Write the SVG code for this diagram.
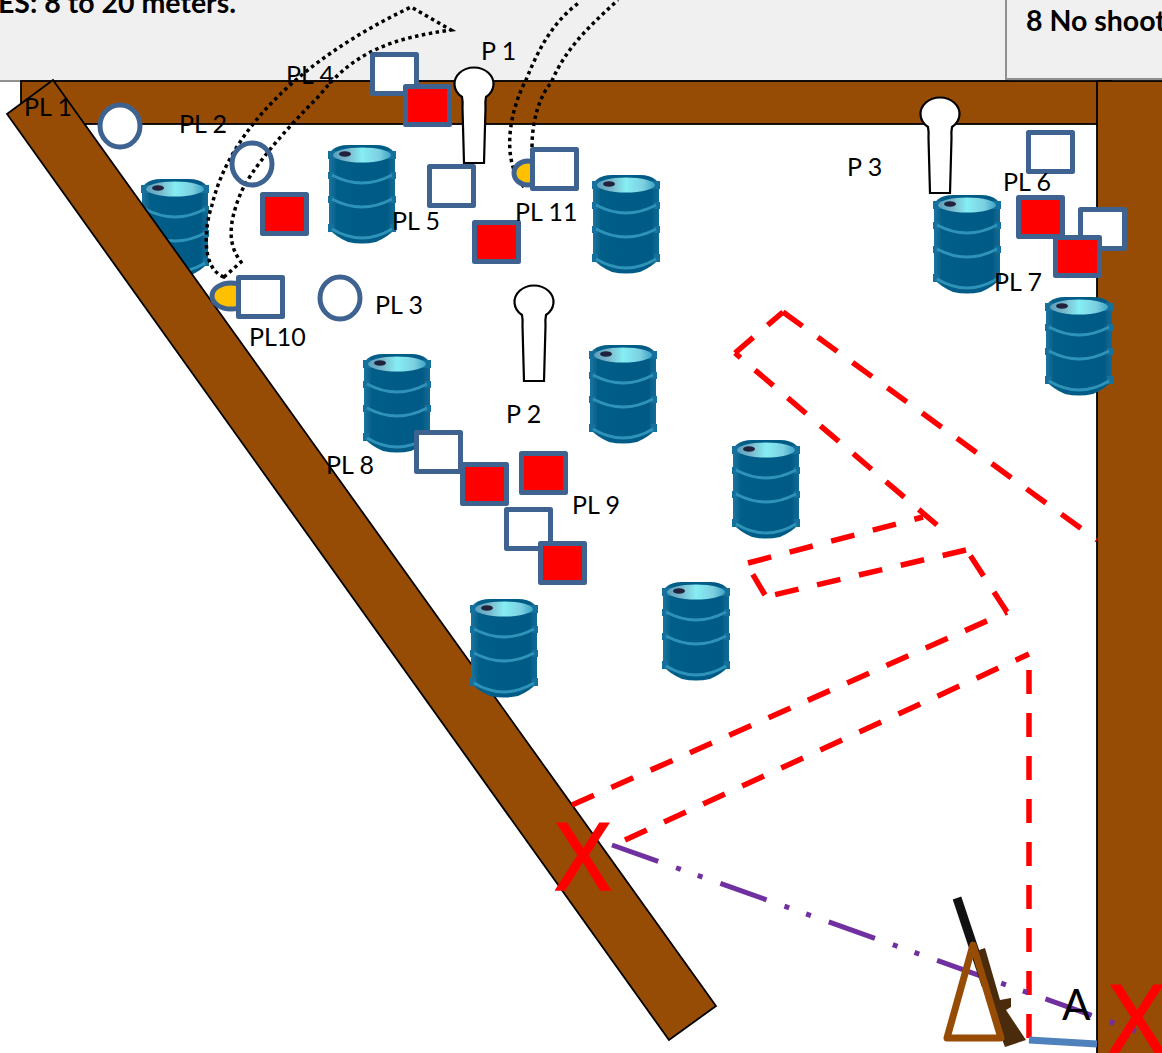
<svg xmlns="http://www.w3.org/2000/svg" width="1162" height="1053" viewBox="0 0 1162 1053">
<style>
text{font-family:"Lato","Liberation Sans",sans-serif;fill:#000}
.lb{font-size:25px}
.hd{font-size:28.500px;font-weight:700}
.wall{fill:#974c06;stroke:#000;stroke-width:1.8}
.sq{stroke:#3f6391;stroke-width:5;stroke-linejoin:round}
.w{fill:#fff}.r{fill:#f00}
.c{stroke:#3f6391;stroke-width:5}
.y{fill:#ffc000;stroke:#3f6391;stroke-width:5}
.p{fill:#fff;stroke:#000;stroke-width:2.2}
.red{fill:none;stroke:#f00;stroke-width:5.500;stroke-dasharray:24 19}
.dot{fill:none;stroke:#000;stroke-width:3.500;stroke-dasharray:3.500 3.500}
.x{fill:#f00;stroke:#f00;stroke-width:1.5;font-size:94px;font-family:"Noto Sans",sans-serif}
.nub{fill:#12709c}
</style>
<defs>
<filter id="soft" x="-5%" y="-5%" width="110%" height="110%"><feGaussianBlur stdDeviation="0.7"/></filter>
<linearGradient id="bg" x1="0" x2="1" y1="0" y2="0"><stop offset="0" stop-color="#1a76a0"/><stop offset=".12" stop-color="#045e88"/><stop offset=".88" stop-color="#045a85"/><stop offset="1" stop-color="#0f6c96"/></linearGradient>
<linearGradient id="tg" x1="0" x2="1" y1="0" y2="0"><stop offset="0" stop-color="#5a9fbd"/><stop offset=".25" stop-color="#7ab8cc"/><stop offset=".5" stop-color="#86eef4"/><stop offset=".8" stop-color="#7ccfe0"/><stop offset="1" stop-color="#3da5c6"/></linearGradient>
<g id="barrel" filter="url(#soft)">
<path d="M4 5 Q10 0 20 0 L48 0 Q58 0 64 5 L67 9 L67 84 Q60 92 48 97 Q34 100 20 97 Q8 92 1 84 L1 9Z" fill="url(#bg)"/>
<path class="nub" d="M0 6h68v8h-68zM0 27h6v7h-6zM62 27h6v7h-6zM0 51h6v7h-6zM62 51h6v7h-6zM0 79h6v8h-6zM62 79h6v8h-6z"/>
<path d="M4 30 Q34 46 64 30M4 54 Q34 70 64 54M4 84 Q34 102 64 84" fill="none" stroke="#2f93b8" stroke-width="3"/>
<ellipse cx="34" cy="10" rx="29" ry="7.500" fill="url(#tg)"/>
<ellipse cx="17" cy="9" rx="6" ry="2.800" fill="#24243e"/>
</g>
<path id="person" class="p" d="M-12 29 A19.500 16.500 0 1 1 12 29 Q11 34 11.500 40 L10 95 L-10 95 L-11.500 40 Q-11 34 -12 29Z"/>
</defs>
<rect width="1162" height="1053" fill="#fff"/>
<g id="panels">
<rect x="-5" y="-5" width="1013" height="86" fill="#f0f0f0" stroke="#909090" stroke-width="2"/>
<rect x="1006" y="-5" width="160" height="84" fill="#f0f0f0" stroke="#909090" stroke-width="2"/>
<text class="hd" x="236" y="13" text-anchor="end">ES: 8 to 20 meters.</text>
<text class="hd" x="1026" y="31">8 No shoot</text>
</g>
<g id="barrel-1"><use href="#barrel" x="141" y="179"/></g>
<g id="walls">
<rect class="wall" x="21" y="81" width="1090" height="43"/>
<rect class="wall" x="1097" y="81" width="70" height="980"/>
<polygon class="wall" points="53,80 7,114 669,1040 716,1006"/>
</g>
<g id="barrels">
<use href="#barrel" x="328" y="145"/>
<use href="#barrel" x="592" y="175"/>
<use href="#barrel" x="933" y="195"/>
<use href="#barrel" x="1045" y="297"/>
<use href="#barrel" x="363" y="354"/>
<use href="#barrel" x="589" y="345"/>
<use href="#barrel" x="732" y="440"/>
<use href="#barrel" x="662" y="582"/>
<use href="#barrel" x="470" y="599"/>
</g>
<g id="connectors">
<path class="red" d="M572 805L1007 612"/>
<path class="red" d="M1007 612L966 549"/>
<path class="red" d="M966 550L765 597"/>
<path class="red" d="M765 595L752 573"/>
<path class="red" d="M748 563L923 517"/>
<path class="red" d="M937 525L735 353"/>
<path class="red" d="M735 353L783 312"/>
<path class="red" d="M783 312L1097 540"/>
<path class="red" d="M625 840L1029 654"/>
<path class="red" d="M1029 670L1029 1040"/>
<path d="M612 845L1150 1036" fill="none" stroke="#7030a0" stroke-width="5" stroke-dasharray="49 19 5 18 5 19"/>
<path class="dot" d="M224 277C200 268 205 225 212 205C230 130 300 60 411 7L451 30C395 38 355 50 320 95C285 130 250 170 240 195C228 225 228 245 241 262Z"/>
<path class="dot" d="M524 187C500 160 510 110 526 80C540 45 555 20 580 2"/>
<path class="dot" d="M532 147C532 120 540 95 551 83C565 50 585 30 618 0"/>
<path d="M1029 1040L1097 1044" fill="none" stroke="#4f81bd" stroke-width="7"/>
</g>
<g id="P1"><use href="#person" x="474" y="68"/></g>
<g id="P2"><use href="#person" x="534" y="286"/></g>
<g id="P3"><use href="#person" x="940" y="98"/></g>
<g id="PL1"><ellipse class="c w" cx="120" cy="126" rx="20" ry="21"/></g>
<g id="PL2"><ellipse class="c" fill="none" cx="252" cy="164" rx="20" ry="21"/></g>
<g id="PL3"><ellipse class="c w" cx="340" cy="298" rx="20" ry="21"/></g>
<g id="PL10-target"><ellipse class="y" cx="231" cy="296" rx="19" ry="13"/><rect class="sq w" x="238.500" y="277.500" width="44" height="39"/></g>
<g id="PL11-target"><ellipse class="y" cx="528" cy="173" rx="14" ry="12"/><rect class="sq w" x="532.500" y="149.500" width="44" height="39"/></g>
<g id="squares">
<rect class="sq w" x="372.500" y="54.500" width="44" height="39"/>
<rect class="sq r" x="405.500" y="86.500" width="44" height="38"/>
<rect class="sq w" x="429.500" y="166.500" width="44" height="39"/>
<rect class="sq r" x="262.500" y="194.500" width="44" height="39"/>
<rect class="sq r" x="474.500" y="222.500" width="44" height="39"/>
<rect class="sq w" x="1028.500" y="132.500" width="44" height="39"/>
<rect class="sq w" x="1080.500" y="209.500" width="44" height="39"/>
<rect class="sq r" x="1018.500" y="197.500" width="44" height="39"/>
<rect class="sq r" x="1055.500" y="237.500" width="44" height="38"/>
<rect class="sq w" x="416.500" y="432.500" width="44" height="39"/>
<rect class="sq r" x="462.500" y="464.500" width="44" height="39"/>
<rect class="sq r" x="521.500" y="453.500" width="44" height="39"/>
<rect class="sq w" x="506.500" y="509.500" width="44" height="39"/>
<rect class="sq r" x="540.500" y="543.500" width="44" height="39"/>
</g>
<g id="shooter">
<path d="M957 898L986 985" stroke="#111" stroke-width="9" fill="none"/>
<path d="M979 950L985 948L1000 1000L1011 998L1011 1007L1006 1010L1026 1040L1005 1047L990 1008L981 975Z" fill="#4a2c0c"/>
<path d="M973 945L1001 1038L947 1038Z" fill="none" stroke="#974c06" stroke-width="7" stroke-linejoin="round"/>
</g>
<g id="labels">
<text class="lb" x="24" y="116">PL 1</text>
<text class="lb" x="481" y="60">P 1</text>
<text class="lb" x="286" y="84">PL 4</text>
<text class="lb" x="179" y="133">PL 2</text>
<text class="lb" x="392" y="230">PL 5</text>
<text class="lb" x="515" y="221">PL 11</text>
<text class="lb" x="375" y="314">PL 3</text>
<text class="lb" x="249" y="346">PL10</text>
<text class="lb" x="847" y="176">P 3</text>
<text class="lb" x="1003" y="191">PL 6</text>
<text class="lb" x="994" y="291">PL 7</text>
<text class="lb" x="326" y="474">PL 8</text>
<text class="lb" x="572" y="514">PL 9</text>
<text class="lb" x="506" y="423">P 2</text>
<text x="1062" y="1020" font-size="42">A</text>
<text class="x" x="583" y="890" text-anchor="middle">X</text>
<text class="x" x="1137" y="1052" text-anchor="middle">X</text>
</g>
</svg>
